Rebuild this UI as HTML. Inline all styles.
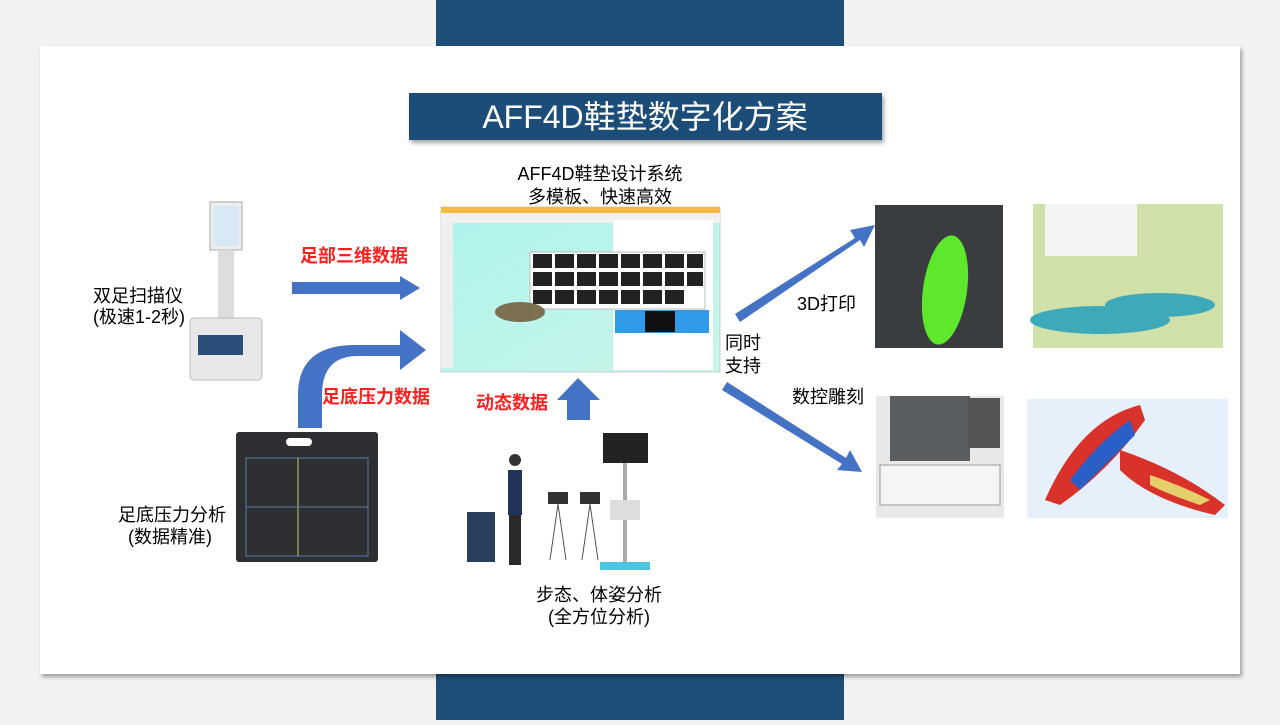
<!DOCTYPE html>
<html><head><meta charset="utf-8"><style>
body{margin:0;width:1280px;height:720px;overflow:hidden;background:#f2f2f2;font-family:"Liberation Sans","Noto Sans CJK SC",sans-serif}
</style></head><body>
<svg width="1280" height="720" xmlns="http://www.w3.org/2000/svg" font-family="Liberation Sans, Noto Sans CJK SC, sans-serif">
<defs>
<filter id="sh" x="-5%" y="-5%" width="110%" height="120%"><feDropShadow dx="2" dy="3" stdDeviation="2" flood-color="#000" flood-opacity="0.35"/></filter>
<linearGradient id="sw" x1="0" y1="0" x2="1" y2="1"><stop offset="0" stop-color="#aef3ec"/><stop offset="1" stop-color="#c8f5ea"/></linearGradient>
</defs>
<rect x="436" y="0" width="408" height="720" fill="#1f4e79"/>
<rect x="40" y="46" width="1200" height="628" fill="#fff" filter="url(#sh)"/>
<rect x="409" y="93" width="473" height="47" fill="#1f4e79" filter="url(#sh)"/>
<text x="645" y="128" font-size="32" fill="#fff" text-anchor="middle">AFF4D鞋垫数字化方案</text>

<text x="600" y="180" font-size="18" text-anchor="middle">AFF4D鞋垫设计系统</text>
<text x="600" y="203" font-size="18" text-anchor="middle">多模板、快速高效</text>

<!-- software screenshot -->
<rect x="441" y="207" width="279" height="165" fill="url(#sw)" stroke="#ccc"/>
<rect x="441" y="207" width="279" height="6" fill="#f4b942"/>
<rect x="441" y="213" width="279" height="10" fill="#f0f0f0"/>
<rect x="441" y="223" width="12" height="145" fill="#eee"/>
<rect x="613" y="220" width="100" height="150" fill="#fff"/>
<rect x="530" y="252" width="175" height="57" fill="#fff" stroke="#bbb"/>
<g fill="#222">
<rect x="533" y="254" width="19" height="14"/><rect x="555" y="254" width="19" height="14"/><rect x="577" y="254" width="19" height="14"/><rect x="599" y="254" width="19" height="14"/><rect x="621" y="254" width="19" height="14"/><rect x="643" y="254" width="19" height="14"/><rect x="665" y="254" width="19" height="14"/><rect x="687" y="254" width="16" height="14"/>
<rect x="533" y="272" width="19" height="14"/><rect x="555" y="272" width="19" height="14"/><rect x="577" y="272" width="19" height="14"/><rect x="599" y="272" width="19" height="14"/><rect x="621" y="272" width="19" height="14"/><rect x="643" y="272" width="19" height="14"/><rect x="665" y="272" width="19" height="14"/><rect x="687" y="272" width="16" height="14"/>
<rect x="533" y="290" width="19" height="14"/><rect x="555" y="290" width="19" height="14"/><rect x="577" y="290" width="19" height="14"/><rect x="599" y="290" width="19" height="14"/><rect x="621" y="290" width="19" height="14"/><rect x="643" y="290" width="19" height="14"/><rect x="665" y="290" width="19" height="14"/>
</g>
<rect x="615" y="310" width="94" height="23" fill="#2f9be8"/>
<rect x="645" y="311" width="30" height="21" fill="#111"/>
<ellipse cx="520" cy="312" rx="25" ry="10" fill="#7d7050"/>

<!-- scanner -->
<rect x="210" y="202" width="32" height="48" fill="#eee" stroke="#aaa"/>
<rect x="213" y="206" width="26" height="40" fill="#d8e8f4"/>
<rect x="218" y="250" width="16" height="70" fill="#ddd"/>
<rect x="190" y="318" width="72" height="62" rx="4" fill="#e8e8e8" stroke="#bbb"/>
<rect x="198" y="335" width="45" height="20" fill="#2c4f7a"/>

<!-- pressure mat -->
<rect x="236" y="432" width="142" height="130" rx="3" fill="#2e2f33"/>
<rect x="286" y="438" width="26" height="8" rx="4" fill="#fff"/>
<rect x="246" y="458" width="122" height="98" fill="none" stroke="#5a7aa0" stroke-width="1"/>
<line x1="298" y1="458" x2="298" y2="556" stroke="#c8c86a"/>
<line x1="246" y1="507" x2="368" y2="507" stroke="#5a7aa0"/>

<!-- gait -->
<rect x="603" y="433" width="45" height="30" fill="#222"/>
<rect x="623" y="463" width="4" height="100" fill="#aaa"/>
<rect x="610" y="500" width="30" height="20" fill="#ddd"/>
<rect x="600" y="562" width="50" height="8" fill="#4cc6e0"/>
<rect x="508" y="470" width="14" height="45" fill="#22345e"/>
<rect x="509" y="515" width="12" height="50" fill="#2a2a2a"/>
<circle cx="515" cy="460" r="6" fill="#333"/>
<rect x="467" y="512" width="28" height="50" fill="#2c3e5e"/>
<rect x="548" y="492" width="20" height="12" fill="#333"/>
<rect x="580" y="492" width="20" height="12" fill="#333"/>
<line x1="558" y1="504" x2="550" y2="560" stroke="#555"/><line x1="558" y1="504" x2="566" y2="560" stroke="#555"/>
<line x1="590" y1="504" x2="582" y2="560" stroke="#555"/><line x1="590" y1="504" x2="598" y2="560" stroke="#555"/>

<!-- photos -->
<rect x="875" y="205" width="128" height="143" fill="#3a3d40"/>
<ellipse cx="945" cy="290" rx="22" ry="55" transform="rotate(8 945 290)" fill="#5ee82c"/>
<rect x="1033" y="204" width="190" height="144" fill="#cfe0a8"/>
<rect x="1045" y="204" width="92" height="52" fill="#f4f4f4"/>
<ellipse cx="1100" cy="320" rx="70" ry="14" fill="#3ea9b8"/>
<ellipse cx="1160" cy="305" rx="55" ry="12" fill="#3ea9b8"/>
<rect x="876" y="396" width="128" height="122" fill="#e8e8e8"/>
<rect x="890" y="396" width="80" height="65" fill="#5a5d60"/>
<rect x="968" y="398" width="32" height="50" fill="#555"/>
<rect x="880" y="465" width="120" height="40" fill="#f5f5f5" stroke="#999"/>
<rect x="1027" y="399" width="201" height="119" fill="#e6f0fa"/>
<path d="M1045 500 Q1080 420 1140 405 L1145 420 Q1110 470 1060 505 Z" fill="#d8322a"/>
<path d="M1120 450 Q1180 470 1225 505 L1215 515 Q1150 500 1120 470 Z" fill="#d8322a"/>
<path d="M1070 480 Q1100 440 1130 420 L1135 435 Q1100 470 1080 490Z" fill="#2a5fc8"/>
<path d="M1150 475 Q1180 485 1210 500 L1200 505 Q1170 495 1150 485Z" fill="#e6cf6a"/>

<!-- arrows -->
<g fill="#4472c4">
<polygon points="292,282 400,282 400,276 420,288 400,300 400,294 292,294"/>
<path d="M298 428 L298 395 Q298 345 355 345 L400 345 L400 330 L426 350 L400 370 L400 356 L358 356 Q322 356 322 395 L322 428 Z"/>
<polygon points="567,420 567,400 557,400 578,378 600,400 590,400 590,420"/>
<polygon points="735,314 855,238 850,230 875,225 864,247 860,240 740,322"/>
<polygon points="727,382 846,458 850,450 862,472 837,470 842,464 722,390"/>
</g>

<g font-size="18" fill="#000">
<text x="93" y="302">双足扫描仪</text>
<text x="93" y="323">(极速1-2秒)</text>
<text x="118" y="521">足底压力分析</text>
<text x="128" y="543">(数据精准)</text>
<text x="599" y="601" text-anchor="middle">步态、体姿分析</text>
<text x="599" y="623" text-anchor="middle">(全方位分析)</text>
<text x="725" y="349">同时</text>
<text x="725" y="372">支持</text>
<text x="797" y="310">3D打印</text>
<text x="792" y="403">数控雕刻</text>
</g>
<g font-size="18" fill="#ff1f1f" font-weight="bold">
<text x="300" y="262">足部三维数据</text>
<text x="322" y="403">足底压力数据</text>
<text x="476" y="409">动态数据</text>
</g>
</svg>
</body></html>
